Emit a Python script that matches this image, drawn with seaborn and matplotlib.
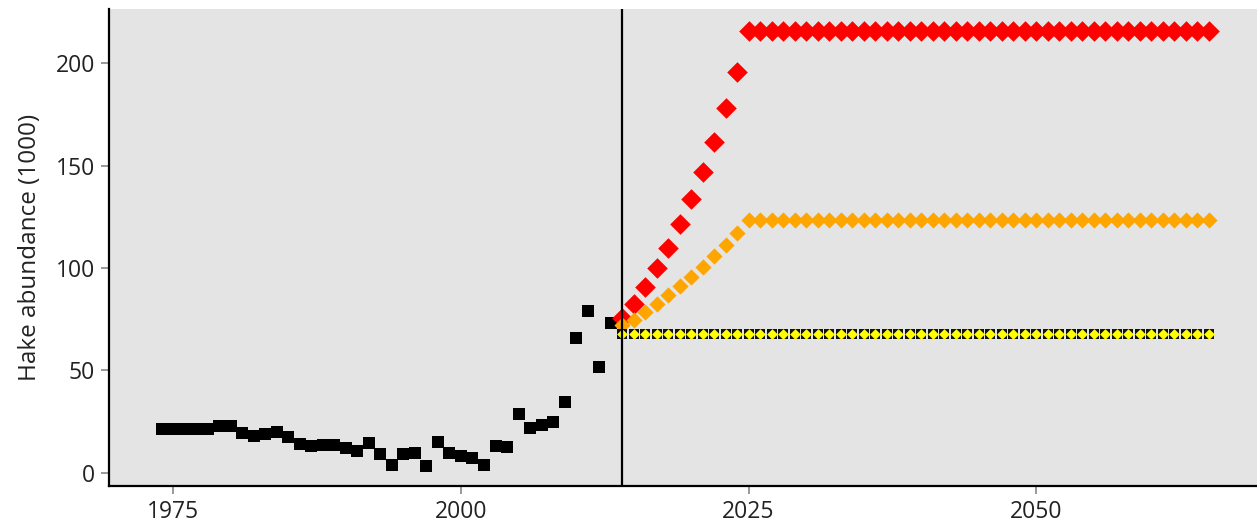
import numpy as np
import pandas as pd
import matplotlib
matplotlib.use("Agg")
import matplotlib.pyplot as plt
import seaborn as sns

# ---- data ----
hist_years = list(range(1974, 2014))
hist_values = [21.5, 21.5, 21.5, 21.5, 21.5, 22.9, 22.6, 19.2, 17.7, 18.9,
               20.0, 17.2, 14.0, 13.2, 13.5, 13.5, 12.3, 10.7, 14.3, 9.1,
               4.0, 8.9, 9.4, 3.4, 15.1, 9.4, 8.3, 7.2, 3.8, 13.2,
               12.7, 28.9, 22.0, 23.3, 24.9, 34.6, 66.0, 79.0, 51.4, 73.0]

proj_years = list(range(2014, 2066))
high_ramp = [75.8, 82.3, 90.7, 100.1, 109.9, 121.3, 133.5, 146.8, 161.6, 177.9, 195.8]
high_plateau = 215.6
mid_ramp = [72.0, 74.5, 78.5, 82.6, 86.7, 91.2, 95.8, 100.6, 105.9, 111.1, 116.9]
mid_plateau = 123.2
low_value = 67.7
cutoff_year = 2014

high_values = high_ramp + [high_plateau] * (len(proj_years) - len(high_ramp))
mid_values = mid_ramp + [mid_plateau] * (len(proj_years) - len(mid_ramp))
low_values = [low_value] * len(proj_years)

x_ticks = [1975, 2000, 2025, 2050]
y_ticks = [0, 50, 100, 150, 200]

hist = pd.DataFrame({"year": hist_years, "value": hist_values})
proj = pd.DataFrame({"year": proj_years, "high": high_values,
                     "mid": mid_values, "low": low_values})

# ---- plot ----
sns.set_style("ticks")
plt.rcParams["font.family"] = ["Open Sans", "DejaVu Sans"]

fig = plt.figure(figsize=(12.57, 5.26), dpi=100)
ax = fig.add_axes([109 / 1257, 1 - 486 / 526, 1 - 109 / 1257, (486 - 9) / 526])
ax.set_facecolor("#e4e4e4")

kw = dict(linewidth=0, legend=False, ax=ax)
sns.scatterplot(data=hist, x="year", y="value", marker="s", s=68, color="black", zorder=3, **kw)
sns.scatterplot(data=proj, x="year", y="high", marker="D", s=110, color="#ff0000", zorder=4, **kw)
sns.scatterplot(data=proj, x="year", y="mid", marker="D", s=68, color="#ffa500", zorder=5, **kw)
sns.scatterplot(data=proj, x="year", y="low", marker="s", s=62, color="#111111", zorder=6, **kw)
sns.scatterplot(data=proj, x="year", y="low", marker="D", s=30, color="#ffff00", zorder=7, **kw)

ax.axvline(cutoff_year, color="black", linewidth=1.6, zorder=8)

ax.set_xlim(1969.4, 2069.2)
ax.set_ylim(-6.5, 226.5)
ax.set_xticks(x_ticks)
ax.set_yticks(y_ticks)
ax.set_xlabel("")
ax.set_ylabel("Hake abundance (1000)", fontsize=17.5, color="#222222", labelpad=10)

for side in ["top", "right"]:
    ax.spines[side].set_visible(False)
for side in ["left", "bottom"]:
    ax.spines[side].set_visible(True)
    ax.spines[side].set_color("black")
    ax.spines[side].set_linewidth(1.6)

ax.tick_params(axis="both", which="major", direction="out", length=6, width=1.2,
               color="#888888", labelsize=16.5, labelcolor="#222222", pad=4)
ax.grid(False)

fig.savefig("out.png", dpi=100)
